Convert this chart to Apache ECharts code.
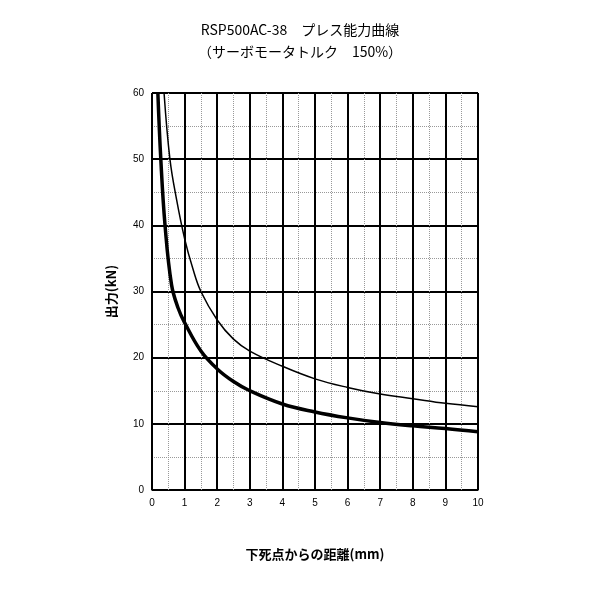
<!DOCTYPE html><html><head><meta charset="utf-8"><script src="https://cdn.jsdelivr.net/npm/echarts@6/dist/echarts.min.js"></script></head><body style="margin:0"><div id="c" style="width:600px;height:600px"></div><script>
const thickX=[0.18,0.27,0.4,0.6,0.8,1,1.5,2,2.5,3,4,5,6,7,8,9,10];
const thickY=[60,50,40,31,27.5,25.3,21,18.3,16.4,15,13,11.8,10.9,10.2,9.7,9.3,8.8];
const thinX=[0.37,0.55,0.75,1,1.25,1.5,2,2.5,3,4,5,6,7,8,9,10];
const thinY=[60,50,44,38,33.5,30,25.7,22.8,21,18.7,16.8,15.5,14.5,13.8,13.1,12.6];
const xTicks=[0,1,2,3,4,5,6,7,8,9,10];
const yTicks=[0,10,20,30,40,50,60];
const F='"Noto Sans CJK JP",sans-serif';
const pair=(a,b)=>a.map((v,i)=>[v,b[i]]);
echarts.init(document.getElementById('c')).setOption({
 animation:false,
 title:{text:'RSP500AC-38　プレス能力曲線\n（サーボモータトルク　150%）',left:'center',top:14,textStyle:{fontFamily:F,fontSize:14,fontWeight:'normal',lineHeight:22,color:'#000'}},
 grid:{left:152,right:122,top:93,bottom:110},
 xAxis:{type:'value',min:0,max:10,interval:1,name:'下死点からの距離(mm)',nameLocation:'middle',nameGap:58,nameTextStyle:{fontFamily:F,fontSize:13,fontWeight:'bold',color:'#000'},
  axisLine:{lineStyle:{color:'#000'}},axisTick:{show:false},axisLabel:{fontSize:10,color:'#000',formatter:v=>xTicks.includes(v)?v:''},
  splitLine:{lineStyle:{color:'#000',width:2}},minorTick:{show:false,splitNumber:2},minorSplitLine:{show:true,lineStyle:{color:'#999',type:'dotted'}}},
 yAxis:{type:'value',min:0,max:60,interval:10,name:'出力(kN)',nameLocation:'middle',nameGap:34,nameTextStyle:{fontFamily:F,fontSize:13,fontWeight:'bold',color:'#000'},
  axisLine:{show:true,lineStyle:{color:'#000'}},axisTick:{show:false},axisLabel:{fontSize:10,color:'#000',formatter:v=>yTicks.includes(v)?v:''},
  splitLine:{lineStyle:{color:'#000',width:2}},minorTick:{show:false,splitNumber:2},minorSplitLine:{show:true,lineStyle:{color:'#999',type:'dotted'}}},
 series:[
  {type:'line',data:pair(thickX,thickY),smooth:0.4,symbol:'none',lineStyle:{color:'#000',width:3.5}},
  {type:'line',data:pair(thinX,thinY),smooth:0.4,symbol:'none',lineStyle:{color:'#000',width:1.5}}
 ]
});
</script></body></html>
